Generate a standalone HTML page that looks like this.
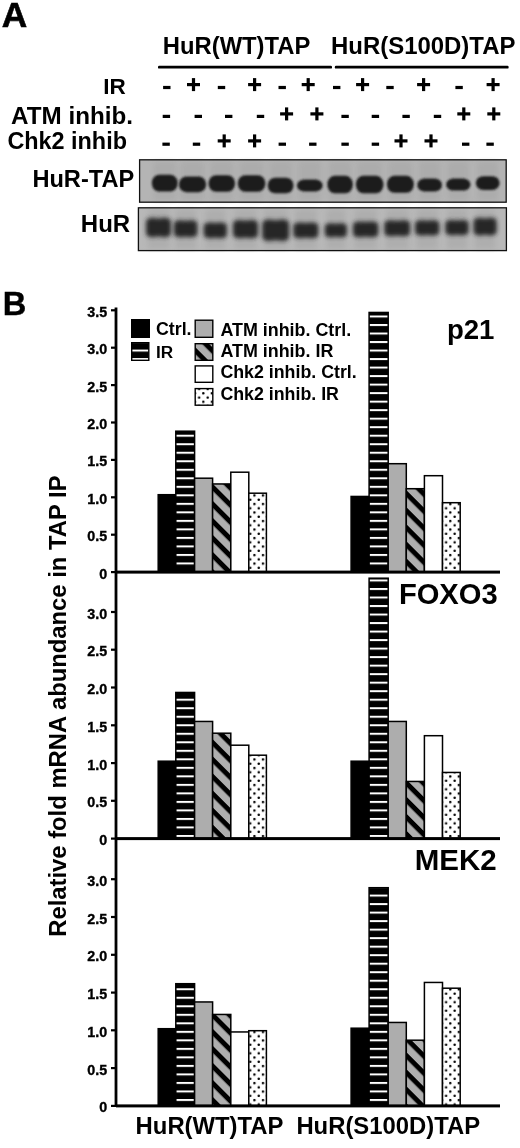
<!DOCTYPE html>
<html><head><meta charset="utf-8"><style>
html,body{margin:0;padding:0;background:#fff;}
body{width:520px;height:1148px;overflow:hidden;}
svg{display:block;font-family:"Liberation Sans",sans-serif;filter:grayscale(100%);}
</style></head><body>
<svg width="520" height="1148" viewBox="0 0 520 1148">
<defs>
<filter id="bl" x="-20%" y="-40%" width="140%" height="180%"><feGaussianBlur stdDeviation="0.8"/></filter>
<filter id="bl3" x="-20%" y="-50%" width="140%" height="200%"><feGaussianBlur stdDeviation="1.9"/></filter>
<filter id="bl2" x="-30%" y="-10%" width="160%" height="120%"><feGaussianBlur stdDeviation="2.5"/></filter>
<pattern id="pir" patternUnits="userSpaceOnUse" x="0" y="315.5" width="40" height="8.516">
 <rect width="40" height="8.516" fill="#000"/><rect x="0" y="0" width="40" height="2" fill="#fff"/></pattern>
<pattern id="phat" patternUnits="userSpaceOnUse" x="0" y="-1.0" width="12.042" height="12.042" patternTransform="rotate(45)">
 <rect width="12.042" height="12.042" fill="#afafaf"/><rect width="12.042" height="4.95" fill="#000"/></pattern>
<pattern id="pdot" patternUnits="userSpaceOnUse" x="253.3" y="494.3" width="8.516" height="8.516">
 <rect width="8.516" height="8.516" fill="#fff"/><circle cx="1.2" cy="1.2" r="1.25" fill="#000"/><circle cx="5.458" cy="5.458" r="1.25" fill="#000"/></pattern>
</defs>
<rect width="520" height="1148" fill="#fff"/>
<text x="1.8" y="27" font-size="35.3" font-weight="bold" text-anchor="start" stroke="#000" stroke-width="0.6">A</text>
<text x="162.8" y="54" font-size="23.8" font-weight="bold" text-anchor="start" >HuR(WT)TAP</text>
<text x="331" y="54" font-size="23.95" font-weight="bold" text-anchor="start" >HuR(S100D)TAP</text>
<rect x="158" y="65.8" width="174" height="2.8" rx="1.2" fill="#000"/>
<rect x="334.8" y="65.8" width="173.8" height="2.8" rx="1.2" fill="#000"/>
<text x="103.2" y="94" font-size="22.5" font-weight="bold" text-anchor="start" >IR</text>
<text x="11.1" y="123.6" font-size="24.2" font-weight="bold" text-anchor="start" >ATM inhib.</text>
<text x="7.4" y="148.6" font-size="23.4" font-weight="bold" text-anchor="start" >Chk2 inhib</text>
<rect x="163.1" y="85.9" width="7.4" height="3.2" fill="#000"/>
<rect x="187.0" y="83.0" width="13" height="3.2" fill="#000"/>
<rect x="191.9" y="78.1" width="3.2" height="13" fill="#000"/>
<rect x="217.8" y="85.9" width="7.4" height="3.2" fill="#000"/>
<rect x="248.1" y="83.0" width="13" height="3.2" fill="#000"/>
<rect x="253.0" y="78.1" width="3.2" height="13" fill="#000"/>
<rect x="278.5" y="85.9" width="7.4" height="3.2" fill="#000"/>
<rect x="301.7" y="83.0" width="13" height="3.2" fill="#000"/>
<rect x="306.6" y="78.1" width="3.2" height="13" fill="#000"/>
<rect x="333.0" y="85.9" width="7.4" height="3.2" fill="#000"/>
<rect x="356.1" y="83.0" width="13" height="3.2" fill="#000"/>
<rect x="361.0" y="78.1" width="3.2" height="13" fill="#000"/>
<rect x="386.3" y="85.9" width="7.4" height="3.2" fill="#000"/>
<rect x="417.1" y="83.0" width="13" height="3.2" fill="#000"/>
<rect x="422.0" y="78.1" width="3.2" height="13" fill="#000"/>
<rect x="455.4" y="85.9" width="7.4" height="3.2" fill="#000"/>
<rect x="486.6" y="83.0" width="13" height="3.2" fill="#000"/>
<rect x="491.5" y="78.1" width="3.2" height="13" fill="#000"/>
<rect x="162.7" y="114.8" width="7.4" height="3.2" fill="#000"/>
<rect x="194.6" y="114.8" width="7.4" height="3.2" fill="#000"/>
<rect x="225.0" y="114.8" width="7.4" height="3.2" fill="#000"/>
<rect x="256.8" y="114.8" width="7.4" height="3.2" fill="#000"/>
<rect x="280.1" y="112.3" width="13" height="3.2" fill="#000"/>
<rect x="285.0" y="107.4" width="3.2" height="13" fill="#000"/>
<rect x="310.4" y="112.3" width="13" height="3.2" fill="#000"/>
<rect x="315.3" y="107.4" width="3.2" height="13" fill="#000"/>
<rect x="341.4" y="114.8" width="7.4" height="3.2" fill="#000"/>
<rect x="371.7" y="114.8" width="7.4" height="3.2" fill="#000"/>
<rect x="402.4" y="114.8" width="7.4" height="3.2" fill="#000"/>
<rect x="433.8" y="114.8" width="7.4" height="3.2" fill="#000"/>
<rect x="457.3" y="112.3" width="13" height="3.2" fill="#000"/>
<rect x="462.2" y="107.4" width="3.2" height="13" fill="#000"/>
<rect x="487.3" y="112.3" width="13" height="3.2" fill="#000"/>
<rect x="492.2" y="107.4" width="3.2" height="13" fill="#000"/>
<rect x="162.4" y="142.6" width="7.4" height="3.2" fill="#000"/>
<rect x="192.8" y="142.6" width="7.4" height="3.2" fill="#000"/>
<rect x="217.7" y="139.3" width="13" height="3.2" fill="#000"/>
<rect x="222.6" y="134.4" width="3.2" height="13" fill="#000"/>
<rect x="248.1" y="139.3" width="13" height="3.2" fill="#000"/>
<rect x="253.0" y="134.4" width="3.2" height="13" fill="#000"/>
<rect x="278.6" y="142.6" width="7.4" height="3.2" fill="#000"/>
<rect x="309.1" y="142.6" width="7.4" height="3.2" fill="#000"/>
<rect x="341.4" y="142.6" width="7.4" height="3.2" fill="#000"/>
<rect x="371.7" y="142.6" width="7.4" height="3.2" fill="#000"/>
<rect x="394.5" y="139.3" width="13" height="3.2" fill="#000"/>
<rect x="399.4" y="134.4" width="3.2" height="13" fill="#000"/>
<rect x="424.5" y="139.3" width="13" height="3.2" fill="#000"/>
<rect x="429.4" y="134.4" width="3.2" height="13" fill="#000"/>
<rect x="462.0" y="142.6" width="7.4" height="3.2" fill="#000"/>
<rect x="486.4" y="142.6" width="7.4" height="3.2" fill="#000"/>
<text x="32.4" y="187.4" font-size="23.6" font-weight="bold" text-anchor="start" >HuR-TAP</text>
<text x="80.8" y="231.8" font-size="24" font-weight="bold" text-anchor="start" >HuR</text>
<rect x="139.6" y="159.8" width="366.6" height="42.4" fill="#b4b4b4"/>
<rect x="153.5" y="161.8" width="22.5" height="38.4" fill="#a6a6a6" opacity="0.55" filter="url(#bl2)"/>
<rect x="180.6" y="161.8" width="23.9" height="38.4" fill="#a6a6a6" opacity="0.55" filter="url(#bl2)"/>
<rect x="210.2" y="161.8" width="23.2" height="38.4" fill="#a6a6a6" opacity="0.55" filter="url(#bl2)"/>
<rect x="239.4" y="161.8" width="24.3" height="38.4" fill="#a6a6a6" opacity="0.55" filter="url(#bl2)"/>
<rect x="269.4" y="161.8" width="22.4" height="38.4" fill="#a6a6a6" opacity="0.55" filter="url(#bl2)"/>
<rect x="298.6" y="161.8" width="22.4" height="38.4" fill="#a6a6a6" opacity="0.55" filter="url(#bl2)"/>
<rect x="329.0" y="161.8" width="22.2" height="38.4" fill="#a6a6a6" opacity="0.55" filter="url(#bl2)"/>
<rect x="357.5" y="161.8" width="24.3" height="38.4" fill="#a6a6a6" opacity="0.55" filter="url(#bl2)"/>
<rect x="388.6" y="161.8" width="23.6" height="38.4" fill="#a6a6a6" opacity="0.55" filter="url(#bl2)"/>
<rect x="419.0" y="161.8" width="21.3" height="38.4" fill="#a6a6a6" opacity="0.55" filter="url(#bl2)"/>
<rect x="447.8" y="161.8" width="21.0" height="38.4" fill="#a6a6a6" opacity="0.55" filter="url(#bl2)"/>
<rect x="477.5" y="161.8" width="20.4" height="38.4" fill="#a6a6a6" opacity="0.55" filter="url(#bl2)"/>
<rect x="151.9" y="174.8" width="25.7" height="16.7" rx="7.5" ry="7.8" fill="#1e1e1e" filter="url(#bl)"/>
<rect x="179.0" y="176.6" width="27.1" height="15.6" rx="7.5" ry="7.3" fill="#1e1e1e" filter="url(#bl)"/>
<rect x="208.6" y="175.3" width="26.4" height="16.5" rx="7.5" ry="7.8" fill="#1e1e1e" filter="url(#bl)"/>
<rect x="237.8" y="175.3" width="27.5" height="16.5" rx="7.5" ry="7.8" fill="#1e1e1e" filter="url(#bl)"/>
<rect x="267.8" y="177.7" width="25.6" height="15.6" rx="7.5" ry="7.3" fill="#1e1e1e" filter="url(#bl)"/>
<rect x="297.0" y="179.5" width="25.6" height="12.0" rx="7.5" ry="5.6" fill="#1e1e1e" filter="url(#bl)"/>
<rect x="327.4" y="175.8" width="25.4" height="17.5" rx="7.5" ry="8.2" fill="#1e1e1e" filter="url(#bl)"/>
<rect x="355.9" y="175.8" width="27.5" height="17.5" rx="7.5" ry="8.2" fill="#1e1e1e" filter="url(#bl)"/>
<rect x="387.0" y="175.8" width="26.8" height="17.0" rx="7.5" ry="8.0" fill="#1e1e1e" filter="url(#bl)"/>
<rect x="417.4" y="178.5" width="24.5" height="13.0" rx="7.5" ry="6.1" fill="#1e1e1e" filter="url(#bl)"/>
<rect x="446.2" y="178.5" width="24.2" height="12.1" rx="7.5" ry="5.7" fill="#1e1e1e" filter="url(#bl)"/>
<rect x="475.9" y="176.2" width="23.6" height="13.8" rx="7.5" ry="6.5" fill="#1e1e1e" filter="url(#bl)"/>
<rect x="139.6" y="159.8" width="366.6" height="42.4" fill="none" stroke="#111" stroke-width="1.3"/>
<rect x="138.4" y="207.8" width="368" height="42.8" fill="#b8b8b8"/>
<rect x="147.7" y="209.8" width="21.7" height="38.8" fill="#a6a6a6" opacity="0.55" filter="url(#bl2)"/>
<rect x="175.5" y="209.8" width="20.3" height="38.8" fill="#a6a6a6" opacity="0.55" filter="url(#bl2)"/>
<rect x="205.4" y="209.8" width="19.9" height="38.8" fill="#a6a6a6" opacity="0.55" filter="url(#bl2)"/>
<rect x="234.6" y="209.8" width="21.8" height="38.8" fill="#a6a6a6" opacity="0.55" filter="url(#bl2)"/>
<rect x="263.9" y="209.8" width="23.6" height="38.8" fill="#a6a6a6" opacity="0.55" filter="url(#bl2)"/>
<rect x="295.0" y="209.8" width="21.7" height="38.8" fill="#a6a6a6" opacity="0.55" filter="url(#bl2)"/>
<rect x="326.5" y="209.8" width="18.8" height="38.8" fill="#a6a6a6" opacity="0.55" filter="url(#bl2)"/>
<rect x="354.6" y="209.8" width="22.1" height="38.8" fill="#a6a6a6" opacity="0.55" filter="url(#bl2)"/>
<rect x="386.0" y="209.8" width="22.5" height="38.8" fill="#a6a6a6" opacity="0.55" filter="url(#bl2)"/>
<rect x="416.7" y="209.8" width="21.0" height="38.8" fill="#a6a6a6" opacity="0.55" filter="url(#bl2)"/>
<rect x="447.0" y="209.8" width="20.0" height="38.8" fill="#a6a6a6" opacity="0.55" filter="url(#bl2)"/>
<rect x="475.2" y="209.8" width="19.9" height="38.8" fill="#a6a6a6" opacity="0.55" filter="url(#bl2)"/>
<path d="M153.1,217.8 Q158.6,219.0 164.0,217.8 C172.1,217.8 171.0,221.3 171.0,227.5 C171.0,233.7 172.1,237.2 164.0,237.2 Q158.6,236.0 153.1,237.2 C145.0,237.2 146.1,233.7 146.1,227.5 C146.1,221.3 145.0,217.8 153.1,217.8 Z" fill="#252525" filter="url(#bl3)"/>
<path d="M180.9,220.3 Q185.7,221.3 190.4,220.3 C198.5,220.3 197.4,223.3 197.4,228.8 C197.4,234.2 198.5,237.2 190.4,237.2 Q185.7,236.2 180.9,237.2 C172.8,237.2 173.9,234.2 173.9,228.8 C173.9,223.3 172.8,220.3 180.9,220.3 Z" fill="#252525" filter="url(#bl3)"/>
<path d="M210.8,222.5 Q215.4,223.4 219.9,222.5 C228.0,222.5 226.9,225.3 226.9,230.3 C226.9,235.4 228.0,238.2 219.9,238.2 Q215.4,237.3 210.8,238.2 C202.8,238.2 203.8,235.4 203.8,230.3 C203.8,225.3 202.8,222.5 210.8,222.5 Z" fill="#252525" filter="url(#bl3)"/>
<path d="M240.0,220.0 Q245.5,221.1 251.0,220.0 C259.1,220.0 258.0,223.3 258.0,229.1 C258.0,234.9 259.1,238.2 251.0,238.2 Q245.5,237.1 240.0,238.2 C231.9,238.2 233.0,234.9 233.0,229.1 C233.0,223.3 231.9,220.0 240.0,220.0 Z" fill="#252525" filter="url(#bl3)"/>
<path d="M269.3,219.6 Q275.7,220.9 282.1,219.6 C290.2,219.6 289.1,223.4 289.1,230.2 C289.1,237.1 290.2,240.9 282.1,240.9 Q275.7,239.6 269.3,240.9 C261.2,240.9 262.3,237.1 262.3,230.2 C262.3,223.4 261.2,219.6 269.3,219.6 Z" fill="#252525" filter="url(#bl3)"/>
<path d="M300.4,222.5 Q305.9,223.4 311.3,222.5 C319.4,222.5 318.3,225.3 318.3,230.3 C318.3,235.4 319.4,238.2 311.3,238.2 Q305.9,237.3 300.4,238.2 C292.3,238.2 293.4,235.4 293.4,230.3 C293.4,225.3 292.3,222.5 300.4,222.5 Z" fill="#252525" filter="url(#bl3)"/>
<path d="M331.9,223.3 Q335.9,224.1 339.9,223.3 C348.0,223.3 346.9,225.8 346.9,230.2 C346.9,234.7 348.0,237.2 339.9,237.2 Q335.9,236.4 331.9,237.2 C323.8,237.2 324.9,234.7 324.9,230.2 C324.9,225.8 323.8,223.3 331.9,223.3 Z" fill="#252525" filter="url(#bl3)"/>
<path d="M360.0,221.4 Q365.6,222.3 371.3,221.4 C379.4,221.4 378.3,224.2 378.3,229.3 C378.3,234.4 379.4,237.2 371.3,237.2 Q365.6,236.3 360.0,237.2 C351.9,237.2 353.0,234.4 353.0,229.3 C353.0,224.2 351.9,221.4 360.0,221.4 Z" fill="#252525" filter="url(#bl3)"/>
<path d="M391.4,220.3 Q397.2,221.3 403.1,220.3 C411.2,220.3 410.1,223.2 410.1,228.2 C410.1,233.3 411.2,236.2 403.1,236.2 Q397.2,235.2 391.4,236.2 C383.3,236.2 384.4,233.3 384.4,228.2 C384.4,223.2 383.3,220.3 391.4,220.3 Z" fill="#252525" filter="url(#bl3)"/>
<path d="M422.1,220.3 Q427.2,221.2 432.3,220.3 C440.4,220.3 439.3,223.0 439.3,227.8 C439.3,232.7 440.4,235.4 432.3,235.4 Q427.2,234.5 422.1,235.4 C414.0,235.4 415.1,232.7 415.1,227.8 C415.1,223.0 414.0,220.3 422.1,220.3 Z" fill="#252525" filter="url(#bl3)"/>
<path d="M452.4,220.0 Q457.0,220.9 461.6,220.0 C469.7,220.0 468.6,222.7 468.6,227.6 C468.6,232.5 469.7,235.2 461.6,235.2 Q457.0,234.3 452.4,235.2 C444.3,235.2 445.4,232.5 445.4,227.6 C445.4,222.7 444.3,220.0 452.4,220.0 Z" fill="#252525" filter="url(#bl3)"/>
<path d="M480.6,217.8 Q485.1,218.9 489.7,217.8 C497.8,217.8 496.7,221.0 496.7,226.6 C496.7,232.2 497.8,235.4 489.7,235.4 Q485.1,234.3 480.6,235.4 C472.5,235.4 473.6,232.2 473.6,226.6 C473.6,221.0 472.5,217.8 480.6,217.8 Z" fill="#252525" filter="url(#bl3)"/>
<rect x="138.4" y="207.8" width="368" height="42.8" fill="none" stroke="#111" stroke-width="1.3"/>
<text x="2.8" y="315.2" font-size="34" font-weight="bold" text-anchor="start" stroke="#000" stroke-width="0.4" transform="translate(2.8,0) scale(0.96,1) translate(-2.8,0)">B</text>
<text x="0" y="0" font-size="23.82" font-weight="bold" transform="translate(66.3,936.8) rotate(-90)">Relative fold mRNA abundance in TAP IP</text>
<rect x="158.20" y="494.70" width="17.60" height="77.40" fill="#000" stroke="#000" stroke-width="1.5"/>
<rect x="175.80" y="431.20" width="18.80" height="140.90" fill="url(#pir)" stroke="#000" stroke-width="1.5"/>
<rect x="194.60" y="478.20" width="18.00" height="93.90" fill="#adadad" stroke="#000" stroke-width="1.5"/>
<rect x="212.60" y="483.95" width="18.20" height="88.15" fill="url(#phat)" stroke="#000" stroke-width="1.5"/>
<rect x="230.80" y="472.20" width="18.00" height="99.90" fill="#fff" stroke="#000" stroke-width="1.5"/>
<rect x="248.80" y="493.20" width="17.60" height="78.90" fill="url(#pdot)" stroke="#000" stroke-width="1.5"/>
<rect x="351.10" y="496.45" width="18.00" height="75.65" fill="#000" stroke="#000" stroke-width="1.5"/>
<rect x="369.10" y="312.45" width="19.10" height="259.65" fill="url(#pir)" stroke="#000" stroke-width="1.5"/>
<rect x="388.20" y="463.70" width="18.10" height="108.40" fill="#adadad" stroke="#000" stroke-width="1.5"/>
<rect x="406.30" y="488.70" width="18.10" height="83.40" fill="url(#phat)" stroke="#000" stroke-width="1.5"/>
<rect x="424.40" y="475.70" width="18.10" height="96.40" fill="#fff" stroke="#000" stroke-width="1.5"/>
<rect x="442.50" y="502.70" width="17.70" height="69.40" fill="url(#pdot)" stroke="#000" stroke-width="1.5"/>
<rect x="158.20" y="761.20" width="17.60" height="77.40" fill="#000" stroke="#000" stroke-width="1.5"/>
<rect x="175.80" y="692.45" width="18.80" height="146.15" fill="url(#pir)" stroke="#000" stroke-width="1.5"/>
<rect x="194.60" y="721.45" width="18.00" height="117.15" fill="#adadad" stroke="#000" stroke-width="1.5"/>
<rect x="212.60" y="733.20" width="18.20" height="105.40" fill="url(#phat)" stroke="#000" stroke-width="1.5"/>
<rect x="230.80" y="745.20" width="18.00" height="93.40" fill="#fff" stroke="#000" stroke-width="1.5"/>
<rect x="248.80" y="755.20" width="17.60" height="83.40" fill="url(#pdot)" stroke="#000" stroke-width="1.5"/>
<rect x="351.10" y="761.20" width="18.00" height="77.40" fill="#000" stroke="#000" stroke-width="1.5"/>
<rect x="369.10" y="578.20" width="19.10" height="260.40" fill="url(#pir)" stroke="#000" stroke-width="1.5"/>
<rect x="388.20" y="721.45" width="18.10" height="117.15" fill="#adadad" stroke="#000" stroke-width="1.5"/>
<rect x="406.30" y="781.45" width="18.10" height="57.15" fill="url(#phat)" stroke="#000" stroke-width="1.5"/>
<rect x="424.40" y="735.70" width="18.10" height="102.90" fill="#fff" stroke="#000" stroke-width="1.5"/>
<rect x="442.50" y="772.45" width="17.70" height="66.15" fill="url(#pdot)" stroke="#000" stroke-width="1.5"/>
<rect x="158.20" y="1028.70" width="17.60" height="77.20" fill="#000" stroke="#000" stroke-width="1.5"/>
<rect x="175.80" y="983.70" width="18.80" height="122.20" fill="url(#pir)" stroke="#000" stroke-width="1.5"/>
<rect x="194.60" y="1001.95" width="18.00" height="103.95" fill="#adadad" stroke="#000" stroke-width="1.5"/>
<rect x="212.60" y="1014.45" width="18.20" height="91.45" fill="url(#phat)" stroke="#000" stroke-width="1.5"/>
<rect x="230.80" y="1031.95" width="18.00" height="73.95" fill="#fff" stroke="#000" stroke-width="1.5"/>
<rect x="248.80" y="1030.70" width="17.60" height="75.20" fill="url(#pdot)" stroke="#000" stroke-width="1.5"/>
<rect x="351.10" y="1028.20" width="18.00" height="77.70" fill="#000" stroke="#000" stroke-width="1.5"/>
<rect x="369.10" y="887.70" width="19.10" height="218.20" fill="url(#pir)" stroke="#000" stroke-width="1.5"/>
<rect x="388.20" y="1022.45" width="18.10" height="83.45" fill="#adadad" stroke="#000" stroke-width="1.5"/>
<rect x="406.30" y="1040.20" width="18.10" height="65.70" fill="url(#phat)" stroke="#000" stroke-width="1.5"/>
<rect x="424.40" y="982.45" width="18.10" height="123.45" fill="#fff" stroke="#000" stroke-width="1.5"/>
<rect x="442.50" y="988.20" width="17.70" height="117.70" fill="url(#pdot)" stroke="#000" stroke-width="1.5"/>
<rect x="114.6" y="307.5" width="2.8" height="799.4" fill="#000"/>
<rect x="116" y="570.6" width="384" height="3" fill="#000"/>
<rect x="111" y="533.6" width="5" height="2.2" fill="#000"/>
<text x="107.2" y="541.2" font-size="14.3" font-weight="bold" text-anchor="end" stroke="#000" stroke-width="0.35">0.5</text>
<rect x="111" y="496.2" width="5" height="2.2" fill="#000"/>
<text x="107.2" y="503.8" font-size="14.3" font-weight="bold" text-anchor="end" stroke="#000" stroke-width="0.35">1.0</text>
<rect x="111" y="458.8" width="5" height="2.2" fill="#000"/>
<text x="107.2" y="466.4" font-size="14.3" font-weight="bold" text-anchor="end" stroke="#000" stroke-width="0.35">1.5</text>
<rect x="111" y="421.4" width="5" height="2.2" fill="#000"/>
<text x="107.2" y="429.0" font-size="14.3" font-weight="bold" text-anchor="end" stroke="#000" stroke-width="0.35">2.0</text>
<rect x="111" y="384.0" width="5" height="2.2" fill="#000"/>
<text x="107.2" y="391.6" font-size="14.3" font-weight="bold" text-anchor="end" stroke="#000" stroke-width="0.35">2.5</text>
<rect x="111" y="346.6" width="5" height="2.2" fill="#000"/>
<text x="107.2" y="354.2" font-size="14.3" font-weight="bold" text-anchor="end" stroke="#000" stroke-width="0.35">3.0</text>
<rect x="111" y="309.2" width="5" height="2.2" fill="#000"/>
<text x="107.2" y="316.8" font-size="14.3" font-weight="bold" text-anchor="end" stroke="#000" stroke-width="0.35">3.5</text>
<rect x="111" y="571.0" width="5" height="2.2" fill="#000"/>
<text x="107.2" y="578.6" font-size="14.3" font-weight="bold" text-anchor="end" stroke="#000" stroke-width="0.35">0</text>
<rect x="116" y="837.1" width="384" height="3" fill="#000"/>
<rect x="111" y="799.7" width="5" height="2.2" fill="#000"/>
<text x="107.2" y="807.3" font-size="14.3" font-weight="bold" text-anchor="end" stroke="#000" stroke-width="0.35">0.5</text>
<rect x="111" y="762.0" width="5" height="2.2" fill="#000"/>
<text x="107.2" y="769.6" font-size="14.3" font-weight="bold" text-anchor="end" stroke="#000" stroke-width="0.35">1.0</text>
<rect x="111" y="724.2" width="5" height="2.2" fill="#000"/>
<text x="107.2" y="731.8" font-size="14.3" font-weight="bold" text-anchor="end" stroke="#000" stroke-width="0.35">1.5</text>
<rect x="111" y="686.4" width="5" height="2.2" fill="#000"/>
<text x="107.2" y="694.0" font-size="14.3" font-weight="bold" text-anchor="end" stroke="#000" stroke-width="0.35">2.0</text>
<rect x="111" y="648.6" width="5" height="2.2" fill="#000"/>
<text x="107.2" y="656.2" font-size="14.3" font-weight="bold" text-anchor="end" stroke="#000" stroke-width="0.35">2.5</text>
<rect x="111" y="610.9" width="5" height="2.2" fill="#000"/>
<text x="107.2" y="618.5" font-size="14.3" font-weight="bold" text-anchor="end" stroke="#000" stroke-width="0.35">3.0</text>
<rect x="111" y="837.5" width="5" height="2.2" fill="#000"/>
<text x="107.2" y="845.1" font-size="14.3" font-weight="bold" text-anchor="end" stroke="#000" stroke-width="0.35">0</text>
<rect x="116" y="1104.4" width="384" height="3" fill="#000"/>
<rect x="111" y="1067.0" width="5" height="2.2" fill="#000"/>
<text x="107.2" y="1074.6" font-size="14.3" font-weight="bold" text-anchor="end" stroke="#000" stroke-width="0.35">0.5</text>
<rect x="111" y="1029.2" width="5" height="2.2" fill="#000"/>
<text x="107.2" y="1036.8" font-size="14.3" font-weight="bold" text-anchor="end" stroke="#000" stroke-width="0.35">1.0</text>
<rect x="111" y="991.5" width="5" height="2.2" fill="#000"/>
<text x="107.2" y="999.1" font-size="14.3" font-weight="bold" text-anchor="end" stroke="#000" stroke-width="0.35">1.5</text>
<rect x="111" y="953.7" width="5" height="2.2" fill="#000"/>
<text x="107.2" y="961.3" font-size="14.3" font-weight="bold" text-anchor="end" stroke="#000" stroke-width="0.35">2.0</text>
<rect x="111" y="915.9" width="5" height="2.2" fill="#000"/>
<text x="107.2" y="923.5" font-size="14.3" font-weight="bold" text-anchor="end" stroke="#000" stroke-width="0.35">2.5</text>
<rect x="111" y="878.1" width="5" height="2.2" fill="#000"/>
<text x="107.2" y="885.7" font-size="14.3" font-weight="bold" text-anchor="end" stroke="#000" stroke-width="0.35">3.0</text>
<rect x="111" y="1104.8" width="5" height="2.2" fill="#000"/>
<text x="107.2" y="1112.4" font-size="14.3" font-weight="bold" text-anchor="end" stroke="#000" stroke-width="0.35">0</text>
<rect x="131.7" y="319.7" width="17.6" height="17.6" fill="#000" stroke="#000" stroke-width="1.4"/>
<rect x="131.7" y="342.7" width="17.1" height="17.6" fill="url(#pir)" stroke="#000" stroke-width="1.4"/>
<rect x="195.2" y="320.2" width="17.6" height="17.1" fill="#adadad" stroke="#000" stroke-width="1.4"/>
<rect x="195.2" y="343.7" width="17.6" height="16.6" fill="url(#phat)" stroke="#000" stroke-width="1.4"/>
<rect x="195.2" y="365.9" width="17.6" height="16.400000000000002" fill="#fff" stroke="#000" stroke-width="1.4"/>
<rect x="195.2" y="388.59999999999997" width="17.6" height="16.6" fill="url(#pdot)" stroke="#000" stroke-width="1.4"/>
<text x="156" y="334.9" font-size="17.8" font-weight="bold" text-anchor="start" >Ctrl.</text>
<text x="156.1" y="357.6" font-size="17.2" font-weight="bold" text-anchor="start" >IR</text>
<text x="220.4" y="336" font-size="17.9" font-weight="bold" text-anchor="start" >ATM inhib. Ctrl.</text>
<text x="220.4" y="357.1" font-size="17.9" font-weight="bold" text-anchor="start" >ATM inhib. IR</text>
<text x="220.4" y="377.8" font-size="17.8" font-weight="bold" text-anchor="start" >Chk2 inhib. Ctrl.</text>
<text x="220.4" y="399.6" font-size="17.8" font-weight="bold" text-anchor="start" >Chk2 inhib. IR</text>
<text x="446.9" y="339.4" font-size="27.6" font-weight="bold" text-anchor="start" >p21</text>
<text x="398.9" y="604.4" font-size="29.15" font-weight="bold" text-anchor="start" >FOXO3</text>
<text x="414.8" y="870.3" font-size="29.5" font-weight="bold" text-anchor="start" >MEK2</text>
<text x="135.6" y="1133.7" font-size="23.85" font-weight="bold" text-anchor="start" >HuR(WT)TAP</text>
<text x="296.4" y="1133.7" font-size="23.85" font-weight="bold" text-anchor="start" >HuR(S100D)TAP</text>
</svg>
</body></html>
